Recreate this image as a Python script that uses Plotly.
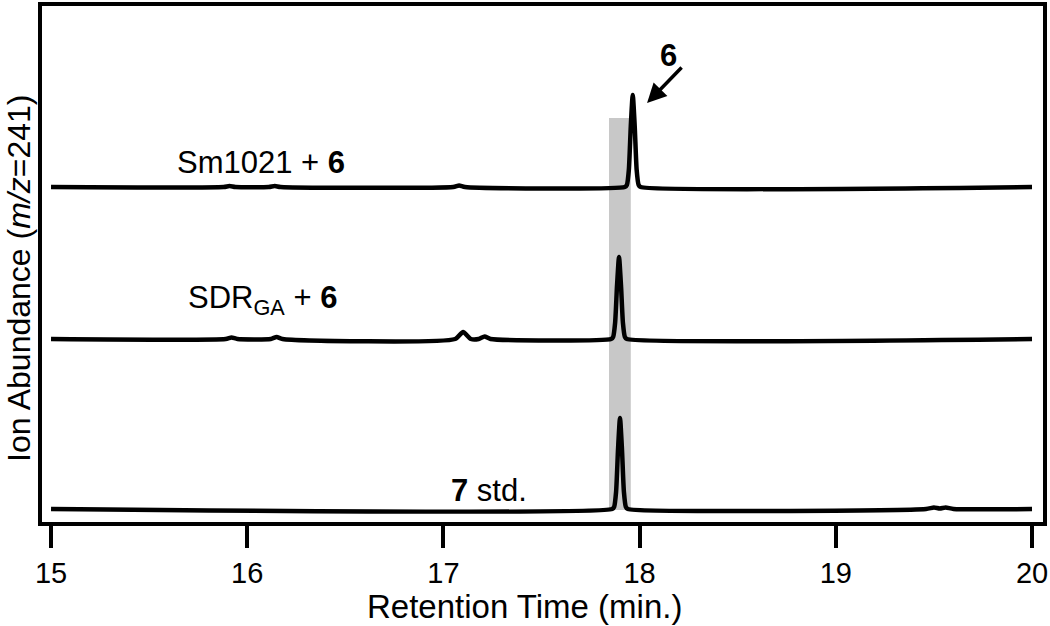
import plotly.graph_objects as go

# ---- data (retention time in min, abundance in arbitrary units above each trace's baseline) ----
sm1021_time = [15.00, 15.88, 15.91, 15.94, 16.11, 16.14, 16.17, 17.05, 17.08, 17.11,
               17.925, 17.935, 17.945, 17.955, 17.965, 17.975, 17.985, 17.995, 18.005, 20.00]
sm1021_abund = [0, 0, 1, 0, 0, 1, 0, 0, 1.5, 0,
                0, 2, 17, 61, 92, 61, 17, 2, 0, 0]

sdr_time = [15.00, 15.89, 15.92, 15.95, 16.12, 16.15, 16.18, 17.06, 17.10, 17.14, 17.18, 17.21, 17.24,
            17.855, 17.865, 17.875, 17.885, 17.895, 17.905, 17.915, 17.925, 17.935, 20.00]
sdr_abund = [0, 0, 1.5, 0, 0, 2, 0, 0, 7, 0, 0, 2.5, 0,
             0, 2, 16, 54, 82, 54, 16, 2, 0, 0]

std_time = [15.00, 17.86, 17.87, 17.88, 17.89, 17.90, 17.91, 17.92, 17.93, 17.94,
            19.46, 19.50, 19.53, 19.56, 19.60, 20.00]
std_abund = [0, 0, 2, 17, 60, 91, 60, 17, 2, 0,
             0, 1.5, 0.5, 1.5, 0, 0]

trace_offsets = [335, 183, 13]
trace_labels = ["Sm1021 + <b>6</b>", "SDR<sub>GA</sub> + <b>6</b>", "<b>7</b> std."]

highlight_window = [17.844, 17.955]
highlight_height = [12, 404]

x_ticks = [15, 16, 17, 18, 19, 20]

FONT = "Liberation Sans, Arial, Helvetica, sans-serif"

fig = go.Figure()

fig.add_shape(type="rect", xref="x", yref="y",
              x0=highlight_window[0], x1=highlight_window[1],
              y0=highlight_height[0], y1=highlight_height[1],
              fillcolor="#c8c8c8", line=dict(width=0), layer="below")

series = [(sm1021_time, sm1021_abund), (sdr_time, sdr_abund), (std_time, std_abund)]
for (t, a), off in zip(series, trace_offsets):
    fig.add_trace(go.Scatter(x=t, y=[v + off for v in a], mode="lines",
                             line=dict(color="black", width=4.5, shape="spline", smoothing=0.6),
                             showlegend=False, hoverinfo="skip"))

label_pos = [(16.07, 360), (16.08, 222), (17.23, 32)]
for txt, (lx, ly) in zip(trace_labels, label_pos):
    fig.add_annotation(x=lx, y=ly, text=txt, showarrow=False,
                       font=dict(family=FONT, size=31, color="black"),
                       xanchor="center", yanchor="middle")

# arrow pointing to peak 6
fig.add_annotation(x=18.038, y=419, ax=36, ay=-37, text="", showarrow=True,
                   arrowhead=2, arrowsize=1.1, arrowwidth=3.5, arrowcolor="black")
fig.add_annotation(x=18.145, y=467, text="<b>6</b>", showarrow=False,
                   font=dict(family=FONT, size=31, color="black"),
                   xanchor="center", yanchor="middle")

# axis titles
fig.add_annotation(xref="paper", yref="paper", x=0.4825, y=-0.163,
                   text="Retention Time (min.)", showarrow=False,
                   font=dict(family=FONT, size=33, color="black"),
                   xanchor="center", yanchor="middle")
fig.add_annotation(xref="paper", yref="paper", x=-0.023, y=0.473,
                   text="Ion Abundance (<i>m/z</i>=241)", showarrow=False, textangle=-90,
                   font=dict(family=FONT, size=32, color="black"),
                   xanchor="center", yanchor="middle")

fig.update_layout(
    width=1050, height=626,
    margin=dict(l=42, r=7, t=6, b=104, autoexpand=False),
    paper_bgcolor="white", plot_bgcolor="white",
    font=dict(family=FONT, color="black"),
    xaxis=dict(range=[14.954, 20.056], tickvals=x_ticks, ticks="outside", ticklen=22,
               tickwidth=4, tickcolor="black", showline=True, linewidth=4, linecolor="black",
               mirror=True, showgrid=False, zeroline=False, automargin=False,
               tickfont=dict(family=FONT, size=29, color="black")),
    yaxis=dict(range=[0, 516], showticklabels=False, ticks="", showline=True, linewidth=4,
               linecolor="black", mirror=True, showgrid=False, zeroline=False, automargin=False),
)

fig.write_html("out.html", config={"displayModeBar": False},
               post_script="document.body.style.margin='0';document.body.style.overflow='hidden';")
